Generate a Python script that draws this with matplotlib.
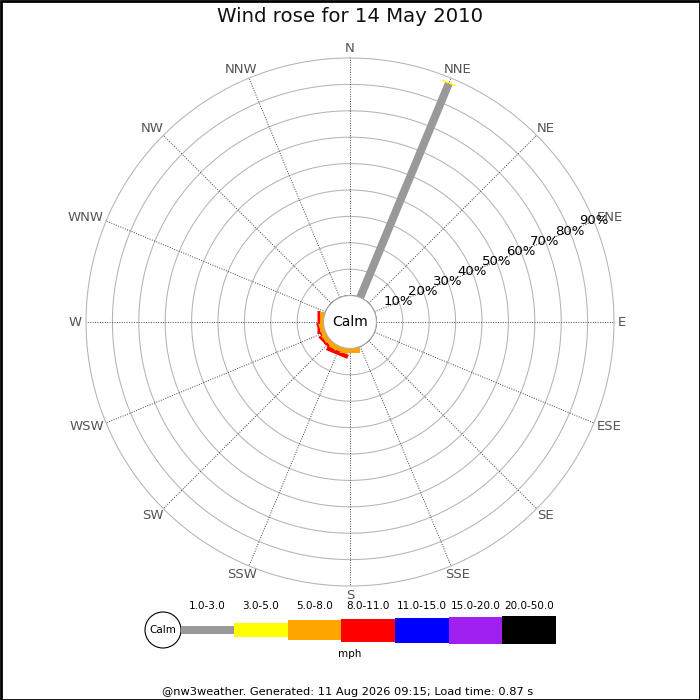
import numpy as np
import matplotlib
matplotlib.use('Agg')
import matplotlib.pyplot as plt
from matplotlib.patches import Rectangle, Circle

# 16 compass points, clockwise from N
directions = ['N', 'NNE', 'NE', 'ENE', 'E', 'ESE', 'SE', 'SSE',
              'S', 'SSW', 'SW', 'WSW', 'W', 'WNW', 'NW', 'NNW']
speed_bins = ['1.0-3.0', '3.0-5.0', '5.0-8.0', '8.0-11.0',
              '11.0-15.0', '15.0-20.0', '20.0-50.0']
bin_colors = ['#999999', '#ffff00', '#ffa500', '#ff0000',
              '#0000ff', '#a020f0', '#000000']
pct_labels = [10, 20, 30, 40, 50, 60, 70, 80, 90]

# percentage of time per direction, one list per speed bin
pct_1_3   = [0, 87.7, 0, 0, 0, 0, 0, 0, 0, 0, 0, 0, 0, 0, 0, 0]
pct_3_5   = [0, 0.6, 0, 0, 0, 0, 0, 0, 0, 0, 0, 0, 0, 0, 0, 0]
pct_5_8   = [0, 0, 0, 0, 0, 0, 0, 0, 1.6, 1.7, 1.6, 1.5, 1.2, 0, 0, 0]
pct_8_11  = [0, 0, 0, 0, 0, 0, 0, 0, 0.2, 1.6, 1.0, 0.6, 1.3, 0, 0, 0]
pct_11_15 = [0] * 16
pct_15_20 = [0] * 16
pct_20_50 = [0] * 16
series = [pct_1_3, pct_3_5, pct_5_8, pct_8_11, pct_11_15, pct_15_20, pct_20_50]

# bar thickness grows with speed (pixels)
bar_px = [8, 14.3, 20, 23, 25, 27, 28]
px = 72.0 / 100  # points per pixel

fig = plt.figure(figsize=(7, 7), dpi=100)

# overlay for legend, labels, footer and border (pixel coordinates)
ov = fig.add_axes([0, 0, 1, 1])
ov.set_xlim(0, 700)
ov.set_ylim(700, 0)
ov.axis('off')

R = 264
cx, cy = 350, 322
ax = fig.add_axes([(cx - R) / 700, (700 - cy - R) / 700, 2 * R / 700, 2 * R / 700],
                  projection='polar')
ax.set_theta_zero_location('N')
ax.set_theta_direction(-1)
ax.set_rorigin(-10)
ax.set_ylim(0, 90)
ax.grid(False)
ax.set_xticks([])
ax.set_yticks([])
for s in ax.spines.values():
    s.set_visible(False)
ax.patch.set_alpha(0)

angles = np.radians(np.arange(16) * 22.5)
tt = np.linspace(0, 2 * np.pi, 400)
for r in pct_labels:
    ax.plot(tt, np.full_like(tt, r), color='#b4b4b4', lw=0.75, zorder=1, clip_on=False)
for a in angles:
    ax.plot([a, a], [0, 90], color='#444444', lw=0.7, ls=(0, (1, 1.5)), zorder=1,
            clip_on=False)

# compass labels, pushed out so the nearest edge sits on a fixed radius
renderer = fig.canvas.get_renderer()
for a, name in zip(angles, directions):
    ux, uy = np.sin(a), -np.cos(a)
    t = ov.text(0, 0, name, ha='center', va='center', fontsize=9.5, color='#555555')
    bb = t.get_window_extent(renderer)
    t.set_position((cx + 268 * ux + bb.width / 2 * ux,
                    cy + 268 * uy + bb.height / 2 * 0.8 * uy))

for p in pct_labels:
    ax.text(np.radians(67.5), p, '%d%%' % p, ha='center', va='center',
            fontsize=9.5, color='black', zorder=5)

# stacked bars as thick radial lines; slower bins drawn last (on top)
for k in range(len(series) - 1, -1, -1):
    for i, a in enumerate(angles):
        v = series[k][i]
        if v <= 0:
            continue
        base = sum(series[j][i] for j in range(k))
        ax.plot([a, a], [base, base + v], color=bin_colors[k],
                lw=bar_px[k] * px, solid_capstyle='butt', zorder=3)

# calm circle
ax.fill(tt, np.zeros_like(tt), facecolor='white', edgecolor='#b4b4b4', lw=0.75,
        zorder=6, clip_on=False)
fig.text(cx / 700, 1 - cy / 700, 'Calm', ha='center', va='center', fontsize=10)

fig.suptitle('Wind rose for 14 May 2010', y=1 - 17 / 700, va='center',
             fontsize=14.2, color='#111111')

# legend
ov.add_patch(Circle((163, 630), 18, facecolor='white', edgecolor='black', lw=0.8))
ov.text(163, 630, 'Calm', ha='center', va='center', fontsize=7.5)
x0, w = 180.5, 53.6
for k, (lab, c) in enumerate(zip(speed_bins, bin_colors)):
    h = bar_px[k]
    ov.add_patch(Rectangle((x0 + k * w, 630 - h / 2), w, h, facecolor=c, edgecolor='none'))
    ov.text(x0 + k * w + w / 2, 606, lab, ha='center', va='center', fontsize=7.5)
ov.text(350, 654, 'mph', ha='center', va='center', fontsize=7.5)

ov.text(348, 692, '@nw3weather. Generated: 11 Aug 2026 09:15; Load time: 0.87 s',
        ha='center', va='center', fontsize=8.2)

ov.add_patch(Rectangle((0.5, 0.5), 699, 699, facecolor='none', edgecolor='black',
                       lw=2, clip_on=False))

fig.savefig('out.png', dpi=100)
